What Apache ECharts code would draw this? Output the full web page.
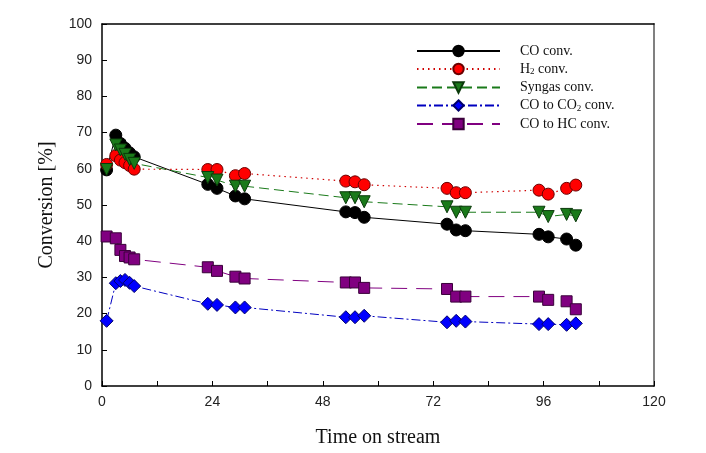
<!DOCTYPE html>
<html><head><meta charset="utf-8">
<script src="https://cdn.jsdelivr.net/npm/echarts@6/dist/echarts.min.js"></script>
<style>html,body{margin:0;padding:0;background:#fff}#c{width:706px;height:453px}</style>
</head><body><div id="c"></div>
<script>
var times = [1, 3, 4, 5, 6, 7, 23, 25, 29, 31, 53, 55, 57, 75, 77, 79, 95, 97, 101, 103];
var coConv = [59.7, 69.3, 67.0, 65.7, 64.4, 63.3, 55.7, 54.6, 52.5, 51.7, 48.1, 47.9, 46.6, 44.7, 43.1, 42.9, 41.9, 41.2, 40.6, 38.9];
var h2Conv = [61.2, 63.6, 62.4, 61.7, 60.9, 59.9, 59.8, 59.8, 58.1, 58.7, 56.6, 56.4, 55.6, 54.6, 53.4, 53.4, 54.1, 53.0, 54.6, 55.5];
var syngasConv = [59.8, 66.6, 65.2, 64.0, 62.6, 61.5, 57.6, 56.9, 55.2, 55.2, 52.0, 52.0, 50.9, 49.5, 48.0, 48.0, 48.0, 46.8, 47.4, 47.0];
var co2Conv = [18.0, 28.4, 29.0, 29.3, 28.5, 27.6, 22.7, 22.4, 21.7, 21.7, 19.0, 19.0, 19.4, 17.6, 18.0, 17.8, 17.1, 17.1, 16.9, 17.3];
var hcConv = [41.3, 40.8, 37.6, 35.9, 35.5, 35.0, 32.8, 31.8, 30.2, 29.7, 28.6, 28.6, 27.1, 26.8, 24.7, 24.7, 24.7, 23.8, 23.4, 21.2];
var seriesNames = ['CO conv.', 'H2 conv.', 'Syngas conv.', 'CO to CO2 conv.', 'CO to HC conv.'];
var xTicks = [0, 24, 48, 72, 96, 120];
var yTicks = [0, 10, 20, 30, 40, 50, 60, 70, 80, 90, 100];

function pairs(v){ return times.map(function(t,i){ return [t, v[i]]; }); }

var chart = echarts.init(document.getElementById('c'), null, {renderer:'canvas'});
var sans = 'Liberation Sans, Arial, sans-serif';
var serif = 'Liberation Serif, Times New Roman, serif';

function mk(name, data, opts){
  return Object.assign({
    name: name, type: 'line', data: pairs(data), showSymbol: true,
    animation: false, symbolSize: 12
  }, opts);
}

var option = {
  animation: false,
  grid: {left: 102, right: 52, top: 24, bottom: 67, containLabel: false},
  legend: {
    orient: 'vertical', left: 411, top: 39, itemWidth: 83, itemHeight: 13, itemGap: 4,
    textStyle: {fontFamily: serif, fontSize: 14, color: '#111', padding: [0, 0, 0, 15],
      rich: {sub: {fontFamily: serif, fontSize: 9, color: '#111', verticalAlign: 'bottom', padding:[6,0,0,0]}}},
    formatter: function(n){
      if (n === 'H2 conv.') return 'H{sub|2} conv.';
      if (n === 'CO to CO2 conv.') return 'CO to CO{sub|2} conv.';
      return n;
    },
    data: seriesNames
  },
  xAxis: [{
    type: 'value', min: 0, max: 120, interval: 24,
    name: 'Time on stream', nameLocation: 'middle', nameGap: 42,
    nameTextStyle: {fontFamily: serif, fontSize: 20, color: '#111'},
    axisLine: {show: true, onZero: false, lineStyle: {color: '#000', width: 1.5}},
    axisTick: {show: true, inside: true, length: 5, lineStyle: {color: '#000'}},
    minorTick: {show: true, splitNumber: 2, length: 5, lineStyle: {color: '#000'}},
    axisLabel: {fontFamily: sans, fontSize: 14, color: '#222', margin: 9},
    splitLine: {show: false}
  }, {
    type: 'value', position: 'top', min: 0, max: 120,
    axisLine: {show: true, onZero: false, lineStyle: {color: '#000', width: 1.5}},
    axisTick: {show: false}, axisLabel: {show: false}, splitLine: {show: false}
  }],
  yAxis: [{
    type: 'value', min: 0, max: 100, interval: 10,
    name: 'Conversion [%]', nameLocation: 'middle', nameGap: 45, nameRotate: 90,
    nameTextStyle: {fontFamily: serif, fontSize: 20, color: '#111'},
    axisLine: {show: true, onZero: false, lineStyle: {color: '#000', width: 1.5}},
    axisTick: {show: true, inside: true, length: 5, lineStyle: {color: '#000'}},
    axisLabel: {fontFamily: sans, fontSize: 14, color: '#222', margin: 10},
    splitLine: {show: false}
  }, {
    type: 'value', position: 'right', min: 0, max: 100,
    axisLine: {show: true, onZero: false, lineStyle: {color: '#808080', width: 2}},
    axisTick: {show: false}, axisLabel: {show: false}, splitLine: {show: false}
  }],
  series: [
    mk('CO conv.', coConv, {symbol: 'circle', symbolSize: 12,
      itemStyle: {color: '#000', borderColor: '#000', borderWidth: 1},
      lineStyle: {color: '#000', width: 1, type: 'solid'}}),
    mk('H2 conv.', h2Conv, {symbol: 'circle', symbolSize: 12,
      itemStyle: {color: '#ff0000', borderColor: '#6a0000', borderWidth: 1},
      lineStyle: {color: '#d00000', width: 1.2, type: [1.5, 4]}}),
    mk('Syngas conv.', syngasConv, {symbol: 'triangle', symbolRotate: 180, symbolSize: 12,
      itemStyle: {color: '#1a7a1a', borderColor: '#0a3a0a', borderWidth: 1},
      lineStyle: {color: '#1a7a1a', width: 1, type: [10, 5]}}),
    mk('CO to CO2 conv.', co2Conv, {symbol: 'diamond', symbolSize: 13,
      itemStyle: {color: '#0000ff', borderColor: '#00006a', borderWidth: 1},
      lineStyle: {color: '#0000c0', width: 1, type: [9, 3, 2, 3]}}),
    mk('CO to HC conv.', hcConv, {symbol: 'rect', symbolSize: 11,
      itemStyle: {color: '#800080', borderColor: '#3a003a', borderWidth: 1},
      lineStyle: {color: '#800080', width: 1, type: [16, 9]}})
  ]
};
chart.setOption(option);
</script></body></html>
